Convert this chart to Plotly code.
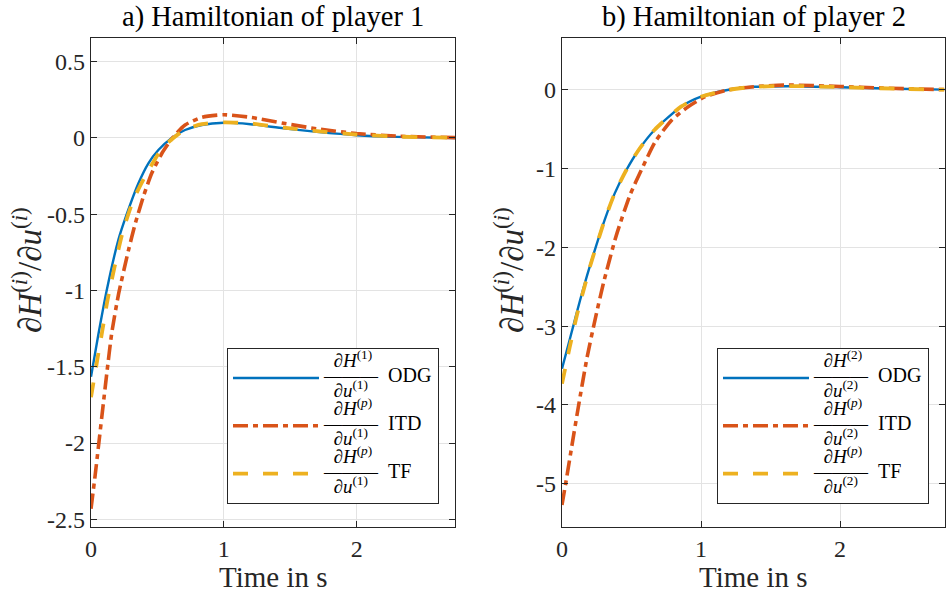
import plotly.graph_objects as go

# ---------------- data ----------------
# Player 1
t1_odg = [0, 0.055, 0.118, 0.206, 0.269, 0.357, 0.432, 0.507, 0.608, 0.708, 0.834, 1.0, 1.2, 1.45, 1.7, 2.0, 2.3, 2.74]
h1_odg = [-1.565, -1.29, -1.0, -0.668, -0.5, -0.297, -0.166, -0.079, 0.0, 0.052, 0.085, 0.10, 0.09, 0.063, 0.04, 0.018, 0.007, 0.0]

t1_itd = [0, 0.03, 0.055, 0.093, 0.118, 0.156, 0.206, 0.281, 0.332, 0.394, 0.457, 0.533, 0.62, 0.708, 0.834, 1.0, 1.2, 1.45, 1.7, 2.0, 2.3, 2.74]
h1_itd = [-2.43, -2.22, -2.03, -1.74, -1.55, -1.28, -1.03, -0.74, -0.565, -0.385, -0.232, -0.102, 0.007, 0.085, 0.135, 0.152, 0.135, 0.096, 0.06, 0.029, 0.012, 0.002]

t1_tf = [0, 0.05, 0.08, 0.125, 0.236, 0.319, 0.407, 0.533, 0.62, 0.708, 0.834, 1.0, 1.2, 1.45, 1.7, 2.0, 2.3, 2.74]
h1_tf = [-1.70, -1.44, -1.29, -1.06, -0.625, -0.406, -0.253, -0.07, 0.0, 0.055, 0.09, 0.102, 0.095, 0.068, 0.045, 0.022, 0.009, 0.001]

# Player 2
t2_odg = [0, 0.057, 0.13, 0.2, 0.307, 0.38, 0.462, 0.55, 0.665, 0.856, 1.0, 1.19, 1.385, 1.66, 2.0, 2.4, 2.75]
h2_odg = [-3.54, -3.16, -2.67, -2.24, -1.65, -1.31, -1.02, -0.765, -0.508, -0.212, -0.085, 0.0, 0.04, 0.048, 0.035, 0.015, 0.004]

t2_itd = [0, 0.03, 0.07, 0.12, 0.18, 0.24, 0.3, 0.39, 0.49, 0.57, 0.67, 0.79, 0.91, 1.03, 1.19, 1.4, 1.6, 2.0, 2.3, 2.75]
h2_itd = [-5.27, -4.96, -4.53, -4.0, -3.40, -2.90, -2.44, -1.85, -1.33, -1.02, -0.66, -0.38, -0.21, -0.085, 0.0, 0.045, 0.062, 0.045, 0.025, 0.005]

t2_tf = [0, 0.055, 0.11, 0.177, 0.2, 0.307, 0.38, 0.462, 0.55, 0.665, 0.856, 1.0, 1.19, 1.385, 1.66, 2.0, 2.4, 2.75]
h2_tf = [-3.73, -3.27, -2.84, -2.40, -2.25, -1.65, -1.31, -1.02, -0.765, -0.508, -0.212, -0.085, 0.0, 0.04, 0.05, 0.037, 0.016, 0.004]

x_ticks = [0, 1, 2]
x_ticktext = ["0", "1", "2"]
y1_ticks = [0.5, 0, -0.5, -1, -1.5, -2, -2.5]
y1_ticktext = ["0.5", "0", "-0.5", "-1", "-1.5", "-2", "-2.5"]
y2_ticks = [0, -1, -2, -3, -4, -5]
y2_ticktext = ["0", "-1", "-2", "-3", "-4", "-5"]

titles = ["a) Hamiltonian of player 1", "b) Hamiltonian of player 2"]
method_names = ["ODG", "ITD", "TF"]

# ---------------- styling ----------------
FONT = "'Liberation Serif', 'Times New Roman', 'DejaVu Serif', serif"
C_BLUE, C_ORANGE, C_YELLOW = "#0072BD", "#D95319", "#EDB120"
AX = "#262626"
GRID = "#e3e3e3"
NB = "\u00a0"


def leg_text(num, den, name):
    s = "<span style='font-size:19px'>"
    return (f"{s}{NB*2}∂<i>H</i><sup>({num})</sup></span><br>"
            f"<span style='font-size:18px'>———</span>"
            f"<span style='font-size:20px'>{NB}{NB}{name}</span><br>"
            f"{s}{NB*2}∂<i>u</i><sup>({den})</sup></span>")


fig = go.Figure()

panels = [
    ("x", "y", "legend", "1", [(t1_odg, h1_odg), (t1_itd, h1_itd), (t1_tf, h1_tf)]),
    ("x2", "y2", "legend2", "2", [(t2_odg, h2_odg), (t2_itd, h2_itd), (t2_tf, h2_tf)]),
]
styles = [
    dict(color=C_BLUE, width=2.4, dash="solid"),
    dict(color=C_ORANGE, width=3.6, dash="15px,5px,5px,5px"),
    dict(color=C_YELLOW, width=3.8, dash="15px,15px"),
]
for xa, ya, lg, idx, series in panels:
    nums = [idx, "<i>p</i>", "<i>p</i>"]
    for k, ((tt, hh), st) in enumerate(zip(series, styles)):
        fig.add_trace(go.Scatter(
            x=tt, y=hh, mode="lines", xaxis=xa, yaxis=ya, legend=lg,
            line=dict(color=st["color"], width=st["width"], dash=st["dash"],
                      shape="spline", smoothing=0.6),
            name=leg_text(nums[k], idx, method_names[k]),
        ))

W, H = 946, 594
left_dom = [91 / W, 455 / W]
right_dom = [562 / W, 945 / W]
y_dom = [(H - 527) / H, (H - 38) / H]

axis_common = dict(
    showline=True, linecolor=AX, linewidth=1.2, mirror="ticks",
    ticks="inside", ticklen=6, tickcolor=AX, tickwidth=1,
    showgrid=True, gridcolor=GRID, gridwidth=1, zeroline=False,
    tickfont=dict(family=FONT, size=24, color=AX),
    automargin=False,
)

legend_common = dict(
    font=dict(family=FONT, size=11.5, color="#000000"),
    bgcolor="white", bordercolor=AX, borderwidth=1,
    itemwidth=86, yanchor="bottom", xanchor="right", valign="middle",
    tracegroupgap=0,
)

fig.update_layout(
    width=W, height=H,
    margin=dict(l=0, r=0, t=0, b=0),
    paper_bgcolor="white", plot_bgcolor="white",
    font=dict(family=FONT, color=AX),
    showlegend=True,
    xaxis=dict(domain=left_dom, anchor="y", range=[0, 2.74],
               tickvals=x_ticks, ticktext=x_ticktext, **axis_common),
    yaxis=dict(domain=y_dom, anchor="x", range=[-2.55, 0.655],
               tickvals=y1_ticks, ticktext=y1_ticktext, **axis_common),
    xaxis2=dict(domain=right_dom, anchor="y2", range=[0, 2.755],
                tickvals=x_ticks, ticktext=x_ticktext, **axis_common),
    yaxis2=dict(domain=y_dom, anchor="x2", range=[-5.55, 0.66],
                tickvals=y2_ticks, ticktext=y2_ticktext, **axis_common),
    legend=dict(x=439 / W, y=(H - 504) / H, **legend_common),
    legend2=dict(x=929 / W, y=(H - 504) / H, **legend_common),
)

ylabel = "∂<i>H</i><sup>(<i>i</i>)</sup>/∂<i>u</i><sup>(<i>i</i>)</sup>"
ann = []
for cx, title in zip([(91 + 455) / 2 / W, (562 + 945) / 2 / W], titles):
    ann.append(dict(text=title, x=cx, y=1 - 17 / H, xref="paper", yref="paper",
                    xanchor="center", yanchor="middle", showarrow=False,
                    font=dict(family=FONT, size=28.5, color="#000000")))
    ann.append(dict(text="Time in s", x=cx, y=1 - 577 / H, xref="paper", yref="paper",
                    xanchor="center", yanchor="middle", showarrow=False,
                    font=dict(family=FONT, size=29, color=AX)))
for lx in [27 / W, 509 / W]:
    ann.append(dict(text=ylabel, x=lx, y=1 - 270 / H, xref="paper", yref="paper",
                    xanchor="center", yanchor="middle", showarrow=False, textangle=-90,
                    font=dict(family=FONT, size=33, color=AX)))
fig.update_layout(annotations=ann)

fig.write_html("out.html")
